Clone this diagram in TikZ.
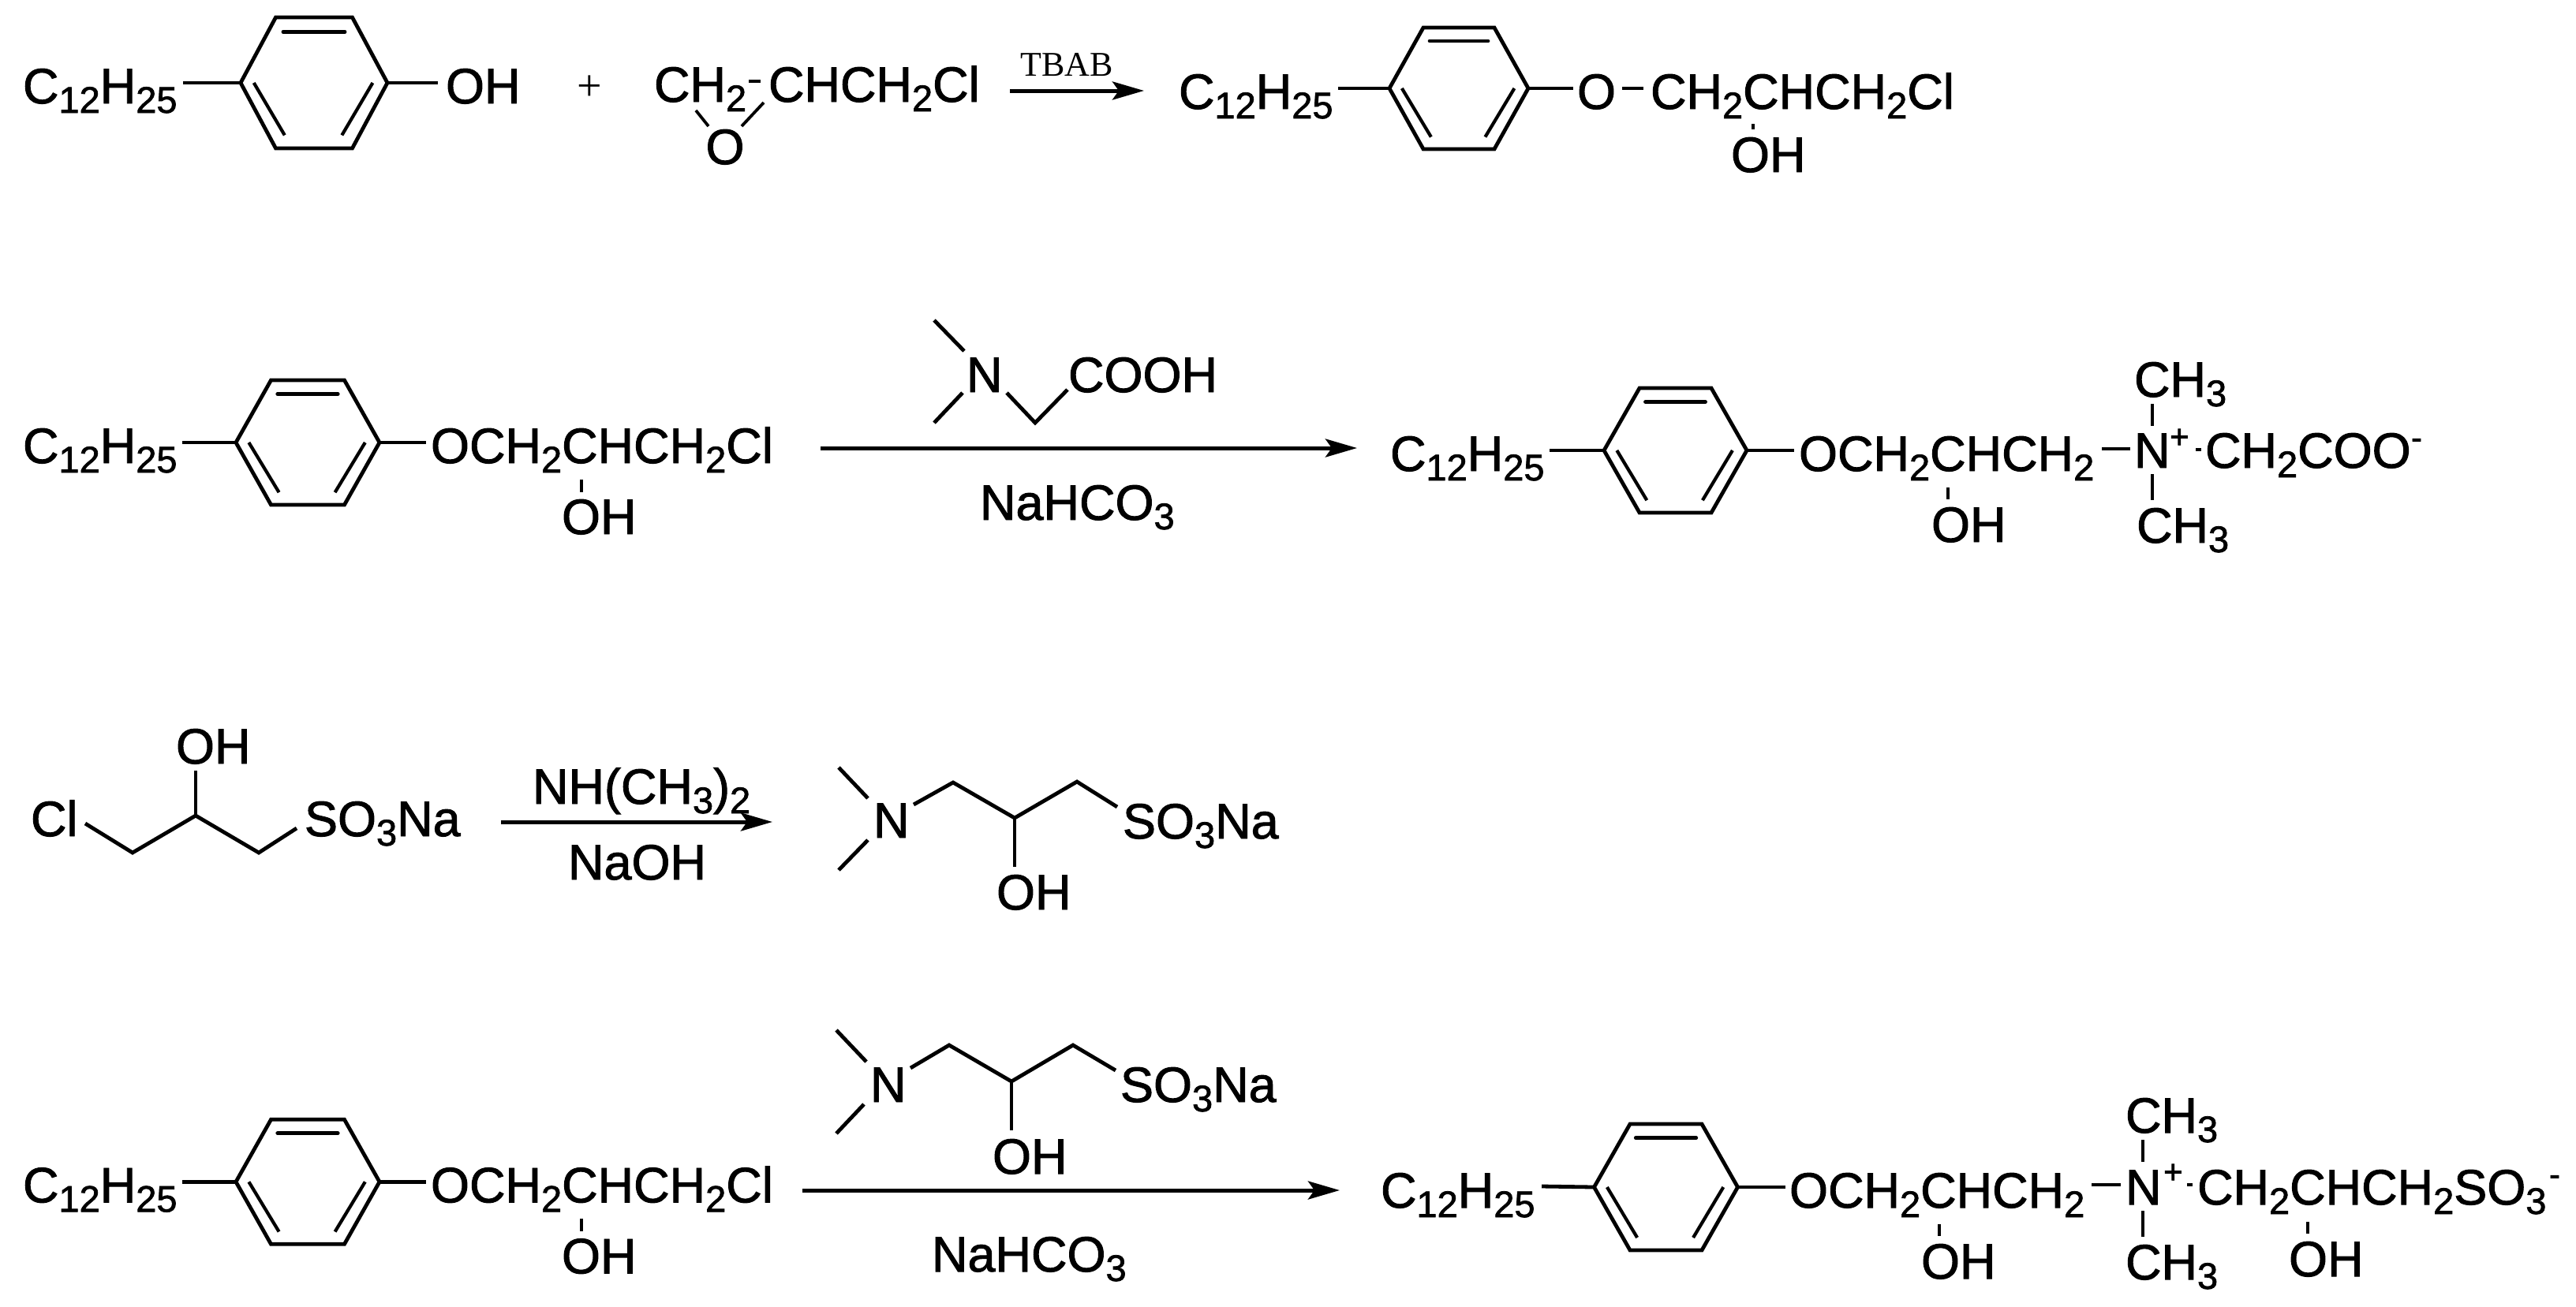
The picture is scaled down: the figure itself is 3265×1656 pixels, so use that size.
\documentclass[tikz,border=0pt]{standalone}
\usepackage{fontspec}
\setmainfont[FakeBold=1.5,AutoFakeBold=false]{Liberation Sans}
\newfontfamily\serifrm{Liberation Serif}
\usetikzlibrary{arrows.meta}
\newcommand\chsb[1]{{\fontsize{23.5}{23.5}\selectfont\raisebox{-6pt}{#1}}}
\tikzset{
  chem/.style={inner sep=0pt,outer sep=0pt,anchor=base west,font=\fontsize{31.5}{31.5}\selectfont},
  chemc/.style={chem,anchor=base},
  chg/.style={inner sep=0pt,outer sep=0pt,anchor=base west,font=\fontsize{21}{21}\selectfont},
  bond/.style={line width=2.4pt,line cap=butt,line join=miter},
  tick/.style={line width=1.9pt,line cap=butt},
  rx/.style={line width=2.5pt,-{Stealth[length=20pt,width=11.5pt,inset=4pt]}},
}
% ring: name, cx, cy, half width, half top width, half height
\newcommand\ringat[6]{%
  \coordinate (#1-l) at ({#2-#4},#3);
  \coordinate (#1-r) at ({#2+#4},#3);
  \coordinate (#1-tl) at ({#2-#5},{#3-#6});
  \coordinate (#1-tr) at ({#2+#5},{#3-#6});
  \coordinate (#1-bl) at ({#2-#5},{#3+#6});
  \coordinate (#1-br) at ({#2+#5},{#3+#6});
  \draw[bond] (#1-l) -- (#1-tl) -- (#1-tr) -- (#1-r) -- (#1-br) -- (#1-bl) -- cycle;
  \draw[bond,line cap=round] ({#2-0.42*#4},{#3-0.78*#6}) -- ({#2+0.42*#4},{#3-0.78*#6});
  \draw[tick,line width=2.1pt] ({#2-0.82*#4},#3) -- ({#2-0.40*#4},{#3+0.80*#6});
  \draw[tick,line width=2.1pt] ({#2+0.80*#4},#3) -- ({#2+0.38*#4},{#3+0.80*#6});
}
% the repeated reactant of rows 2 and 4
\newcommand\reactant[2]{%
  \ringat{#1}{390}{561+#2}{91}{46.5}{79}
  \node[chem] (#1-alk) at (29,{587+#2}) {C\chsb{12}H\chsb{25}};
  \node[chem] (#1-ch) at (546,{587+#2}) {OCH\chsb{2}CHCH\chsb{2}Cl};
  \node[chem] (#1-oh) at (712,{677+#2}) {OH};
  \draw[bond] (#1-l) -- (231,{561+#2});
  \draw[bond] (#1-r) -- (540,{561+#2});
  \draw[tick] (737,{608+#2}) -- (737,{624+#2});
}
\begin{document}
\begin{tikzpicture}[x=0.5pt,y=-0.5pt]
\useasboundingbox (0,0) rectangle (3265,1656);
\fill[white] (0,0) rectangle (3265,1656);

% ---------- row 1
\ringat{ra}{398}{105}{93}{48.5}{83}
\node[chem] (a-alk) at (29,131) {C\chsb{12}H\chsb{25}};
\node[chem] (a-oh) at (565,131) {OH};
\draw[bond] (ra-l) -- (232,105);
\draw[bond] (ra-r) -- (555,105);
\node[inner sep=0pt,anchor=base,font=\serifrm\fontsize{28}{28}\selectfont] (plus) at (747,127) {+};
\node[chem] (ep-a) at (829,129) {CH\chsb{2}};
\node[chem] (ep-b) at (974,129) {CHCH\chsb{2}Cl};
\node[chemc] (ep-o) at (919,208) {O};
\draw[bond] (949,103) -- (964,103);
\draw[tick] (882,140) -- (898,160);
\draw[tick] (968,130) -- (940,160);
\node[inner sep=0pt,anchor=base west,font=\serifrm\fontsize{22}{22}\selectfont] (tbab) at (1293,96) {TBAB};
\coordinate (a1s) at (1280,115);
\coordinate (a1e) at (1450,115);
\draw[rx] (a1s) -- (a1e);

\ringat{rb}{1849}{112}{88}{45}{77}
\node[chem] (b-alk) at (1494,138) {C\chsb{12}H\chsb{25}};
\node[chem] (b-o) at (1999,138) {O};
\node[chem] (b-ch) at (2092,138) {CH\chsb{2}CHCH\chsb{2}Cl};
\node[chem] (b-oh) at (2194,218) {OH};
\draw[bond] (rb-l) -- (1696,112);
\draw[bond] (rb-r) -- (1994,112);
\draw[bond] (2056,112) -- (2083,112);
\draw[tick] (2222,157) -- (2222,164);

% ---------- row 2
\reactant{rc}{0}
\node[chem] (c-n) at (1225,497) {N};
\node[chem] (c-cooh) at (1354,497) {COOH};
\draw[bond] (1184,406) -- (1222,445);
\draw[bond] (1220,498) -- (1184,536);
\draw[bond] (1276,498) -- (1312,536) -- (1353,494);
\coordinate (a2s) at (1040,568);
\coordinate (a2e) at (1720,568);
\draw[rx] (a2s) -- (a2e);
\node[chem] (c-naco) at (1242,659) {NaHCO\chsb{3}};

\ringat{rd}{2123.5}{571}{90.5}{45.5}{79}
\node[chem] (d-alk) at (1762,597) {C\chsb{12}H\chsb{25}};
\node[chem] (d-ch) at (2280,597) {OCH\chsb{2}CHCH\chsb{2}};
\node[chem] (d-n) at (2705,593) {N};
\node[chg] (d-plus) at (2750,568) {+};
\node[chem] (d-coo) at (2795,593) {CH\chsb{2}COO};
\node[chg] (d-minus) at (3056,569) {-};
\node[chem] (d-me1) at (2705,503) {CH\chsb{3}};
\node[chem] (d-me2) at (2708,688) {CH\chsb{3}};
\node[chem] (d-oh) at (2448,687) {OH};
\draw[bond] (rd-l) -- (1964,571);
\draw[bond] (rd-r) -- (2274,571);
\draw[bond] (2664,569) -- (2700,569);
\draw[tick] (2783,570) -- (2790,570);
\draw[tick] (2728,512) -- (2728,540);
\draw[tick] (2728,601) -- (2728,634);
\draw[tick] (2469,618) -- (2469,633);

% ---------- row 3
\node[chem] (e-cl) at (39,1060) {Cl};
\node[chem] (e-oh) at (223,968) {OH};
\node[chem] (e-so) at (386,1060) {SO\chsb{3}Na};
\draw[bond] (108,1044) -- (168,1081) -- (248,1034) -- (328,1081) -- (376,1050);
\draw[bond] (248,977) -- (248,1034);
\coordinate (a3s) at (635,1042);
\coordinate (a3e) at (979,1042);
\draw[rx] (a3s) -- (a3e);
\node[chem] (e-nh) at (675,1019) {NH(CH\chsb{3})\chsb{2}};
\node[chem] (e-naoh) at (720,1115) {NaOH};
\node[chem] (f-n) at (1107,1062) {N};
\node[chem] (f-oh) at (1263,1153) {OH};
\node[chem] (f-so) at (1423,1063) {SO\chsb{3}Na};
\draw[bond] (1063,973) -- (1100,1012);
\draw[bond] (1100,1065) -- (1063,1103);
\draw[bond] (1158,1020) -- (1208,992) -- (1286,1037) -- (1365,991) -- (1416,1023);
\draw[bond] (1286,1037) -- (1286,1099);

% ---------- row 4
\reactant{rg}{937.3}
\node[chem] (g-n) at (1103,1397) {N};
\node[chem] (g-so) at (1420,1397) {SO\chsb{3}Na};
\node[chem] (g-oh) at (1258,1488) {OH};
\draw[bond] (1060,1306) -- (1098,1346);
\draw[bond] (1095,1400) -- (1060,1437);
\draw[bond] (1154,1354) -- (1203,1325) -- (1282,1371) -- (1360,1325) -- (1414,1357);
\draw[bond] (1282,1371) -- (1282,1433);
\coordinate (a4s) at (1017,1509);
\coordinate (a4e) at (1698,1509);
\draw[rx] (a4s) -- (a4e);
\node[chem] (g-naco) at (1181,1612) {NaHCO\chsb{3}};

\ringat{rh}{2111.5}{1505}{91}{45.5}{80}
\node[chem] (h-alk) at (1750,1531) {C\chsb{12}H\chsb{25}};
\node[chem] (h-ch) at (2268,1531) {OCH\chsb{2}CHCH\chsb{2}};
\node[chem] (h-n) at (2694,1527) {N};
\node[chg] (h-plus) at (2742,1500) {+};
\node[chem] (h-so) at (2785,1527) {CH\chsb{2}CHCH\chsb{2}SO\chsb{3}};
\node[chg] (h-minus) at (3231,1503) {-};
\node[chem] (h-me1) at (2694,1436) {CH\chsb{3}};
\node[chem] (h-me2) at (2694,1622) {CH\chsb{3}};
\node[chem] (h-oh1) at (2435,1621) {OH};
\node[chem] (h-oh2) at (2901,1618) {OH};
\draw[bond] (rh-l) -- (1954,1504);
\draw[bond] (rh-r) -- (2263,1505);
\draw[bond] (2651,1502) -- (2688,1502);
\draw[tick] (2772,1502) -- (2779,1502);
\draw[tick] (2716,1445) -- (2716,1473);
\draw[tick] (2716,1535) -- (2716,1568);
\draw[tick] (2458,1552) -- (2458,1567);
\draw[tick] (2925,1549) -- (2925,1564);
\end{tikzpicture}
\end{document}
